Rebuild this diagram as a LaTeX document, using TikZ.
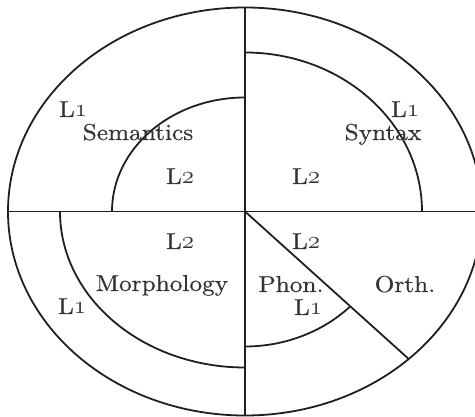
\documentclass[tikz,border=0pt]{standalone}
\usepackage{fontspec}
\newfontfamily\lmwide{lmroman10-regular.otf}[FakeStretch=1.1,FakeBold=0.6]
\usetikzlibrary{calc}
\definecolor{linec}{HTML}{231F20}
\definecolor{textc}{HTML}{333333}
\newcommand{\osn}[1]{{\usefont{OML}{cmm}{m}{it}\fontsize{25}{25}\selectfont #1}}
\newcommand{\Lone}{L\osn{1}}
\newcommand{\Ltwo}{L\osn{2}}
\begin{document}
\begin{tikzpicture}[x=1pt,y=1pt,
  part/.style={draw=linec,line width=1.8pt},
  lbl/.style={inner sep=0pt,anchor=base,text=textc,font=\lmwide\fontsize{23}{23}\selectfont}]
\useasboundingbox (0,0) rectangle (475,417);
\clip (0,0) rectangle (475,417);
\coordinate (O) at (245,205.5);
% outer ellipse
\draw[part] (O) ellipse [x radius=237, y radius=204];
% axes
\coordinate (top) at (245,409.5);
\coordinate (bot) at (245,1.5);
\coordinate (lft) at (8,205.5);
\coordinate (rgt) at (482,205.5);
\draw[part] (top) -- (bot);
\draw[part] (lft) -- (rgt);
% inner arcs
\draw[part] (245,319.5) arc [start angle=90, end angle=180, x radius=133, y radius=114];
\draw[part] (422,205.5) arc [start angle=0, end angle=90, x radius=177, y radius=159];
\draw[part] (60,205.5) arc [start angle=180, end angle=270, x radius=185, y radius=156];
\draw[part] (245,70.5) arc [start angle=270, end angle=315, x radius=148, y radius=135];
% diagonal
\coordinate (diag) at ($(O)+({237*cos(-46.3)},{204*sin(-46.3)})$);
\draw[part] (O) -- (diag);
% labels
\node[lbl] (l1ul) at (73,300) {\Lone};
\node[lbl] (sem) at (138,277) {Semantics};
\node[lbl] (l2ul) at (180,233) {\Ltwo};
\node[lbl] (l1ur) at (405,300) {\Lone};
\node[lbl] (syn) at (383,277) {Syntax};
\node[lbl] (l2ur) at (306,233) {\Ltwo};
\node[lbl] (l2ll) at (180,168) {\Ltwo};
\node[lbl] (mor) at (162,126) {Morphology};
\node[lbl] (l1ll) at (72,103) {\Lone};
\node[lbl] (l2lr) at (306,168) {\Ltwo};
\node[lbl] (pho) at (291,125) {Phon.};
\node[lbl] (l1lr) at (308,102) {\Lone};
\node[lbl] (ort) at (405,125) {Orth.};
\end{tikzpicture}
\end{document}
